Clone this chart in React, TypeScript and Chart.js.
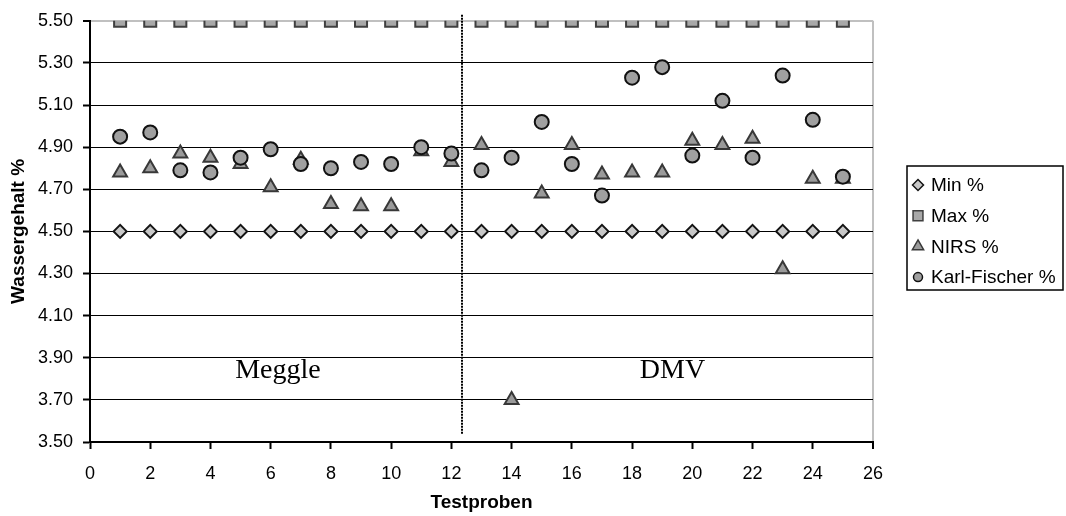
import { useEffect, useRef } from 'react';
import { Chart, registerables } from 'chart.js';
import { drawPoint } from 'chart.js/helpers';

Chart.register(...registerables);

// Sample numbers (Testproben)
const samples = [1, 2, 3, 4, 5, 6, 7, 8, 9, 10, 11, 12, 13, 14, 15, 16, 17, 18, 19, 20, 21, 22, 23, 24, 25];

// Lower and upper specification limits
const minPct = [4.5, 4.5, 4.5, 4.5, 4.5, 4.5, 4.5, 4.5, 4.5, 4.5, 4.5, 4.5, 4.5, 4.5, 4.5, 4.5, 4.5, 4.5, 4.5, 4.5, 4.5, 4.5, 4.5, 4.5, 4.5];
const maxPct = [5.5, 5.5, 5.5, 5.5, 5.5, 5.5, 5.5, 5.5, 5.5, 5.5, 5.5, 5.5, 5.5, 5.5, 5.5, 5.5, 5.5, 5.5, 5.5, 5.5, 5.5, 5.5, 5.5, 5.5, 5.5];

// Measured water content
const nirsPct = [4.78, 4.8, 4.87, 4.85, 4.82, 4.71, 4.84, 4.63, 4.62, 4.62, 4.88, 4.83, 4.91, 3.7, 4.68, 4.91, 4.77, 4.78, 4.78, 4.93, 4.91, 4.94, 4.32, 4.75, 4.75];
const karlFischerPct = [4.95, 4.97, 4.79, 4.78, 4.85, 4.89, 4.82, 4.8, 4.83, 4.82, 4.9, 4.87, 4.79, 4.85, 5.02, 4.82, 4.67, 5.23, 5.28, 4.86, 5.12, 4.85, 5.24, 5.03, 4.76];

// Axis ranges
const xRange = [0, 26];
const xStep = 2;
const yRange = [3.5, 5.5];
const yStep = 0.2;

// Supplier groups, separated by a dotted divider
const dividerAt = 12.35;
const groupNames = ['Meggle', 'DMV'];
const groupCentersX = [6.24, 19.34];
const groupLabelY = 3.84;

const SANS = "'Liberation Sans', Arial, sans-serif";
const SERIF = "'Liberation Serif', 'Times New Roman', serif";

const toPoints = (vals: number[]) => samples.map((x, i) => ({ x, y: vals[i] }));

type LegendMark = { pointStyle: string; radius: number };
const legendMarks: LegendMark[] = [
  { pointStyle: 'rectRot', radius: 5.5 },
  { pointStyle: 'rect', radius: 7 },
  { pointStyle: 'triangle', radius: 6.5 },
  { pointStyle: 'circle', radius: 4.5 },
];

const overlayPlugin = {
  id: 'overlay',
  afterDraw(chart: any) {
    const { ctx, scales } = chart;
    const xs = scales.x;
    const ys = scales.y;

    // dotted divider between the two suppliers
    ctx.save();
    const dx = Math.round(xs.getPixelForValue(dividerAt));
    ctx.strokeStyle = '#000';
    ctx.lineWidth = 2;
    ctx.setLineDash([2, 1]);
    ctx.beginPath();
    ctx.moveTo(dx, ys.getPixelForValue(yRange[1]) - 6);
    ctx.lineTo(dx, ys.getPixelForValue(3.535));
    ctx.stroke();
    ctx.restore();

    // group names
    ctx.save();
    ctx.fillStyle = '#000';
    ctx.font = `28px ${SERIF}`;
    ctx.textAlign = 'center';
    ctx.textBaseline = 'middle';
    groupNames.forEach((name, i) => {
      ctx.fillText(name, xs.getPixelForValue(groupCentersX[i]), ys.getPixelForValue(groupLabelY));
    });
    ctx.restore();

    // legend box
    const boxL = 907;
    const boxT = 166;
    const boxW = 156;
    const boxH = 124;
    ctx.save();
    ctx.fillStyle = '#fff';
    ctx.fillRect(boxL, boxT, boxW, boxH);
    ctx.strokeStyle = '#000';
    ctx.lineWidth = 1.5;
    ctx.strokeRect(boxL, boxT, boxW, boxH);
    ctx.font = `19px ${SANS}`;
    ctx.textAlign = 'left';
    ctx.textBaseline = 'middle';
    chart.data.datasets.forEach((ds: any, i: number) => {
      const cy = boxT + 19 + i * 30.7;
      const mark = legendMarks[i];
      ctx.fillStyle = ds.backgroundColor;
      ctx.strokeStyle = ds.borderColor;
      ctx.lineWidth = 1.5;
      drawPoint(ctx, { pointStyle: mark.pointStyle, radius: mark.radius, rotation: 0, borderWidth: 1.5 } as any, boxL + 11, cy);
      ctx.fillStyle = '#000';
      ctx.fillText(ds.label, boxL + 24, cy + 1);
    });
    ctx.restore();
  },
};

export default function App() {
  const ref = useRef<HTMLCanvasElement>(null);

  useEffect(() => {
    const canvas = ref.current;
    if (!canvas) return;
    const isTop = (c: any) => c.tick && Math.abs(c.tick.value - yRange[1]) < 1e-6;
    const isRight = (c: any) => c.tick && Math.abs(c.tick.value - xRange[1]) < 1e-6;

    const chart = new Chart(canvas, {
      type: 'scatter',
      data: {
        datasets: [
          {
            label: 'Min %',
            data: toPoints(minPct),
            pointStyle: 'rectRot',
            pointRadius: 6.5,
            backgroundColor: '#c8c8c8',
            borderColor: '#141414',
            borderWidth: 2,
            order: 4,
          },
          {
            label: 'Max %',
            data: toPoints(maxPct),
            pointStyle: 'rect',
            pointRadius: 8.5,
            backgroundColor: '#a8a8a8',
            borderColor: '#404040',
            borderWidth: 2,
            order: 3,
          },
          {
            label: 'NIRS %',
            data: toPoints(nirsPct),
            pointStyle: 'triangle',
            pointRadius: 8,
            backgroundColor: '#9a9a9a',
            borderColor: '#383838',
            borderWidth: 2,
            order: 2,
          },
          {
            label: 'Karl-Fischer %',
            data: toPoints(karlFischerPct),
            pointStyle: 'circle',
            pointRadius: 7,
            backgroundColor: '#a0a0a0',
            borderColor: '#111',
            borderWidth: 2,
            order: 1,
          },
        ] as any,
      },
      options: {
        responsive: false,
        animation: false,
        events: [],
        layout: { padding: { left: 0, top: 18, right: 193, bottom: 0 } },
        plugins: {
          legend: { display: false },
          tooltip: { enabled: false },
        },
        scales: {
          x: {
            type: 'linear',
            min: xRange[0],
            max: xRange[1],
            ticks: {
              stepSize: xStep,
              color: '#000',
              font: { family: SANS, size: 18 },
              padding: 14,
            },
            grid: {
              color: (c: any) => (isRight(c) ? '#c0c0c0' : 'rgba(0,0,0,0)'),
              lineWidth: (c: any) => (isRight(c) ? 2 : 1),
              tickColor: '#000',
              tickLength: 7,
              tickWidth: 2,
            },
            border: { color: '#000', width: 2 },
            title: {
              display: true,
              text: 'Testproben',
              color: '#000',
              font: { family: SANS, size: 19, weight: 'bold' },
              padding: { top: 0, bottom: 2 },
            },
            afterFit: (s: any) => {
              s.height = 74;
            },
          },
          y: {
            type: 'linear',
            min: yRange[0],
            max: yRange[1],
            ticks: {
              stepSize: yStep,
              color: '#000',
              font: { family: SANS, size: 18 },
              padding: 10,
              callback: (v: any) => Number(v).toFixed(2),
            },
            grid: {
              color: (c: any) => (isTop(c) ? '#c0c0c0' : '#000'),
              lineWidth: (c: any) => (isTop(c) ? 2 : 1),
              tickColor: '#000',
              tickLength: 7,
              tickWidth: 2,
            },
            border: { color: '#000', width: 2 },
            title: {
              display: true,
              text: 'Wassergehalt %',
              color: '#000',
              font: { family: SANS, size: 19, weight: 'bold' },
              padding: { top: 7, bottom: 0 },
            },
            afterFit: (s: any) => {
              s.width = 90;
            },
          },
        },
      } as any,
      plugins: [overlayPlugin],
    });

    return () => chart.destroy();
  }, []);

  return (
    <div style={{ position: 'absolute', left: 0, top: 0, width: 1066, height: 516, background: '#fff' }}>
      <canvas ref={ref} width={1066} height={516} style={{ display: 'block' }} />
    </div>
  );
}
